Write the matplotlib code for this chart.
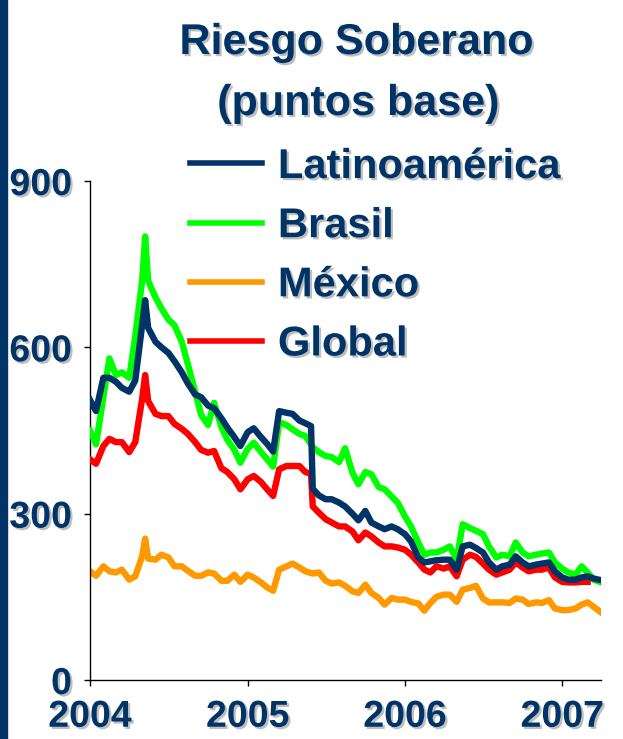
import numpy as np
import pandas as pd
import matplotlib
matplotlib.use("Agg")
import matplotlib.pyplot as plt
import matplotlib.dates as mdates
import matplotlib.patheffects as pe
from matplotlib.patches import Rectangle

plt.rcParams["font.family"] = ["Liberation Sans", "DejaVu Sans"]
plt.rcParams["font.weight"] = "bold"

# semi-monthly readings, plus a couple of extra days around the big moves
dates = [
    "2004-01-01", "2004-01-15", "2004-02-01", "2004-02-15", "2004-03-01", "2004-03-15",
    "2004-04-01", "2004-04-15", "2004-05-01", "2004-05-08", "2004-05-15", "2004-06-01",
    "2004-06-15", "2004-07-01", "2004-07-15", "2004-08-01", "2004-08-15", "2004-09-01",
    "2004-09-15", "2004-10-01", "2004-10-15", "2004-11-01", "2004-11-15", "2004-12-01",
    "2004-12-15",
    "2005-01-01", "2005-01-15", "2005-02-01", "2005-02-15", "2005-03-01", "2005-03-15",
    "2005-04-01", "2005-04-15", "2005-05-01", "2005-05-15", "2005-05-28", "2005-06-01",
    "2005-06-15", "2005-07-01", "2005-07-15", "2005-08-01", "2005-08-15", "2005-09-01",
    "2005-09-15", "2005-10-01", "2005-10-15", "2005-11-01", "2005-11-15", "2005-12-01",
    "2005-12-15",
    "2006-01-01", "2006-01-15", "2006-02-01", "2006-02-15", "2006-03-01", "2006-03-15",
    "2006-04-01", "2006-04-15", "2006-05-01", "2006-05-15", "2006-06-01", "2006-06-15",
    "2006-07-01", "2006-07-15", "2006-08-01", "2006-08-15", "2006-09-01", "2006-09-15",
    "2006-10-01", "2006-10-15", "2006-11-01", "2006-11-15", "2006-12-01", "2006-12-15",
    "2007-01-01", "2007-01-15", "2007-02-01", "2007-02-15", "2007-03-01", "2007-03-15",
    "2007-04-01",
]

latinoamerica = [
    505, 485, 545, 545, 538, 527, 520, 540, 640, 685, 635, 610, 600, 590, 575, 555, 535, 515,
    510, 495, 490, 472, 455, 438, 422,
    447, 454, 438, 426, 412, 485, 482, 480, 468, 463, 458, 345, 333, 326, 326, 320, 313, 300,
    288, 305, 284, 277, 272, 277, 272,
    263, 250, 221, 212, 214, 216, 217, 217, 199, 241, 244, 238, 230, 212, 199, 205, 208, 223,
    212, 205, 208, 210, 212, 196,
    185, 181, 181, 185, 187, 183, 180,
]

brasil = [
    450, 425, 510, 580, 550, 555, 545, 620, 720, 800, 720, 690, 670, 650, 640, 610, 570, 520,
    478, 460, 500, 456, 433, 415, 392,
    417, 428, 411, 398, 385, 465, 460, 452, 444, 440, 425, 420, 411, 404, 402, 393, 418, 374,
    353, 375, 371, 348, 344, 331, 320,
    295, 277, 248, 226, 230, 230, 235, 241, 217, 281, 274, 269, 263, 241, 221, 226, 223, 248,
    230, 223, 226, 228, 230, 212,
    201, 194, 190, 205, 194, 181, 176,
]

mexico = [
    196, 188, 205, 196, 194, 199, 181, 187, 223, 255, 219, 217, 226, 221, 205, 205, 197, 188,
    188, 194, 192, 179, 179, 190, 177,
    190, 185, 176, 167, 161, 199, 205, 210, 203, 196, 193, 192, 194, 179, 174, 176, 170, 160,
    157, 172, 157, 148, 136, 148, 145,
    145, 141, 138, 125, 139, 150, 154, 154, 141, 163, 166, 170, 147, 140, 140, 140, 139, 147,
    145, 137, 140, 139, 144, 129,
    126, 126, 129, 136, 140, 132, 122,
]

global_ = [
    398, 390, 422, 435, 429, 429, 411, 429, 507, 550, 503, 480, 476, 476, 462, 453, 444, 429,
    415, 410, 413, 382, 375, 362, 344,
    362, 368, 357, 344, 332, 380, 386, 386, 386, 375, 372, 313, 302, 290, 284, 277, 277, 268,
    252, 266, 259, 248, 241, 241, 239,
    235, 226, 212, 199, 194, 205, 201, 205, 187, 217, 226, 222, 210, 199, 190, 194, 199, 212,
    203, 196, 199, 199, 203, 185,
    177, 176, 176, 177, 177, np.nan, np.nan,
]

labels = ["Latinoamérica", "Brasil", "México", "Global"]
year_ticks = ["2004-01-01", "2005-01-01", "2006-01-01", "2007-01-01"]
y_ticks = [0, 300, 600, 900]

navy = "#003366"
shadow = [pe.withSimplePatchShadow(offset=(1.6, -1.6), shadow_rgbFace="#8a8a8a", alpha=0.55)]

x = pd.to_datetime(dates)

fig = plt.figure(figsize=(6.23, 7.39), dpi=100)
fig.patch.set_facecolor("white")
# dark strip down the left edge
fig.patches.append(Rectangle((0, 0), 7 / 623, 1, transform=fig.transFigure,
                             color=navy, zorder=0))

ax = fig.add_axes([90 / 623, 59 / 739, 511 / 623, 499 / 739])

lw = 4.6
l_mex, = ax.plot(x, mexico, color="#ff9900", lw=lw, zorder=2)
l_glo, = ax.plot(x, global_, color="#ff0000", lw=lw, zorder=3)
l_bra, = ax.plot(x, brasil, color="#00ff00", lw=lw, zorder=4)
l_lat, = ax.plot(x, latinoamerica, color=navy, lw=lw, zorder=5)

ax.set_xlim(pd.Timestamp("2004-01-01"), pd.Timestamp("2007-04-01"))
ax.set_ylim(0, 900)
ax.set_xticks(pd.to_datetime(year_ticks))
ax.xaxis.set_major_formatter(mdates.DateFormatter("%Y"))
ax.set_yticks(y_ticks)

for s in ["top", "right"]:
    ax.spines[s].set_visible(False)
for s in ["left", "bottom"]:
    ax.spines[s].set_linewidth(1.0)
    ax.spines[s].set_color("black")

ax.tick_params(axis="both", direction="out", length=4.5, width=1.0, colors="black",
               labelsize=27, labelcolor=navy)
ax.tick_params(axis="y", pad=8.5)
ax.tick_params(axis="x", pad=9)
for t in ax.get_xticklabels() + ax.get_yticklabels():
    t.set_fontweight("bold")
    t.set_path_effects(shadow)

fig.text(356 / 623, 1 - 54 / 739, "Riesgo Soberano", ha="center", va="baseline",
         fontsize=31, fontweight="bold", color=navy, path_effects=shadow)
fig.text(358 / 623, 1 - 115 / 739, "(puntos base)", ha="center", va="baseline",
         fontsize=31, fontweight="bold", color=navy, path_effects=shadow)

leg = ax.legend([l_lat, l_bra, l_mex, l_glo], labels, loc="upper left",
                bbox_to_anchor=(190 / 623, 1 - 147 / 739), bbox_transform=fig.transFigure,
                frameon=False, prop={"size": 30, "weight": "bold"},
                handlelength=1.73, handletextpad=0.38, labelspacing=0.46,
                borderpad=0, borderaxespad=0)
for t in leg.get_texts():
    t.set_color(navy)
    t.set_path_effects(shadow)
for h in leg.get_lines():
    h.set_linewidth(4.0)

fig.savefig("out.png", dpi=100)
